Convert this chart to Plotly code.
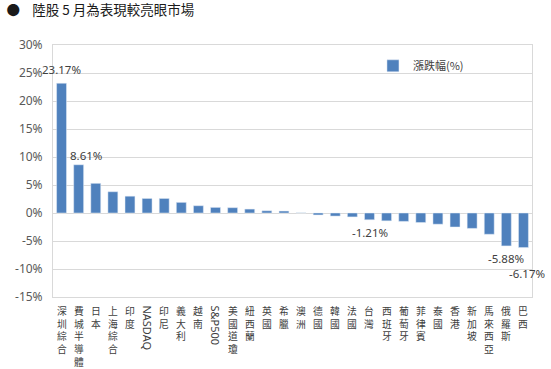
import plotly.graph_objects as go

categories = ["深圳綜合", "費城半導體", "日本", "上海綜合", "印度", "NASDAQ", "印尼", "義大利",
              "越南", "S&P500", "美國道瓊", "紐西蘭", "英國", "希臘", "澳洲", "德國", "韓國",
              "法國", "台灣", "西班牙", "葡萄牙", "菲律賓", "泰國", "香港", "新加坡", "馬來西亞",
              "俄羅斯", "巴西"]
values = [23.17, 8.61, 5.3, 3.8, 3.0, 2.6, 2.6, 1.9, 1.3, 1.0, 0.95, 0.7, 0.4, 0.35, 0.03,
          -0.35, -0.55, -0.7, -1.21, -1.4, -1.5, -1.7, -2.0, -2.5, -2.75, -3.8, -5.88, -6.17]
labeled = ["深圳綜合", "費城半導體", "台灣", "俄羅斯", "巴西"]
series_name = "漲跌幅(%)"
title_text = "●\u00a0\u00a0\u00a0\u00a0陸股 5 月為表現較亮眼市場"
y_ticks = [-15, -10, -5, 0, 5, 10, 15, 20, 25, 30]
y_ticktext = [f"{t}%" for t in y_ticks]

BAR = "#4F81BD"
GRID = "#D9D9D9"
TXT = "#404040"
CJK = "Noto Sans CJK TC"

fig = go.Figure()
fig.add_trace(go.Bar(x=categories, y=values, name=series_name, marker_color=BAR,
                     showlegend=True))

# label offsets (style only): (xshift, yshift)
label_offsets = {"深圳綜合": (0, 4), "費城半導體": (7, 0), "台灣": (1, -13),
                 "俄羅斯": (0, -13), "巴西": (4, -26)}

annotations = []
for c, v in zip(categories, values):
    if c in labeled:
        dx, dy = label_offsets[c]
        annotations.append(dict(x=c, y=v, xref="x", yref="y", text=f"{v:.2f}%",
                                showarrow=False, xshift=dx, yshift=dy,
                                yanchor="bottom" if v > 0 else "middle",
                                font=dict(family="Noto Sans", size=11.5, color=TXT)))

# vertical category labels
for c in categories:
    if c.isascii():
        annotations.append(dict(x=c, y=0, xref="x", yref="paper", text=c, textangle=90,
                                showarrow=False, yanchor="top", xanchor="center", yshift=-6,
                                font=dict(family="Noto Sans", size=11, color=TXT)))
    else:
        annotations.append(dict(x=c, y=0, xref="x", yref="paper", text="<br>".join(c),
                                showarrow=False, yanchor="top", xanchor="center",
                                yshift=-5,
                                font=dict(family=CJK, size=9.8, color=TXT)))

fig.update_layout(
    width=551, height=369,
    margin=dict(l=53, r=19, t=45, b=72),
    paper_bgcolor="white", plot_bgcolor="white",
    bargap=0.42,
    title=dict(text=title_text, x=0.012, xanchor="left", xref="container",
               y=0.972, yanchor="middle", yref="container",
               font=dict(family=CJK, size=13.5, color="#1a1a1a")),
    xaxis=dict(range=[-0.5, len(categories) - 0.5], showticklabels=False, showline=True,
               mirror=True, linecolor=GRID, linewidth=1, showgrid=False),
    yaxis=dict(range=[-15, 30], tickvals=y_ticks, ticktext=y_ticktext, showgrid=True,
               gridcolor=GRID, zeroline=True, zerolinecolor=GRID, zerolinewidth=1,
               showline=True, mirror=True, linecolor=GRID, linewidth=1,
               ticklabelstandoff=7,
               tickfont=dict(family="Noto Sans", size=12, color="#595959")),
    legend=dict(x=0.668, y=0.975, xanchor="left", yanchor="top", bgcolor="rgba(0,0,0,0)",
                font=dict(family=CJK, size=11, color=TXT), itemwidth=30),
    annotations=annotations,
)

fig.write_html("out.html", config={"displayModeBar": False},
               post_script="document.body.style.margin='0px';")
